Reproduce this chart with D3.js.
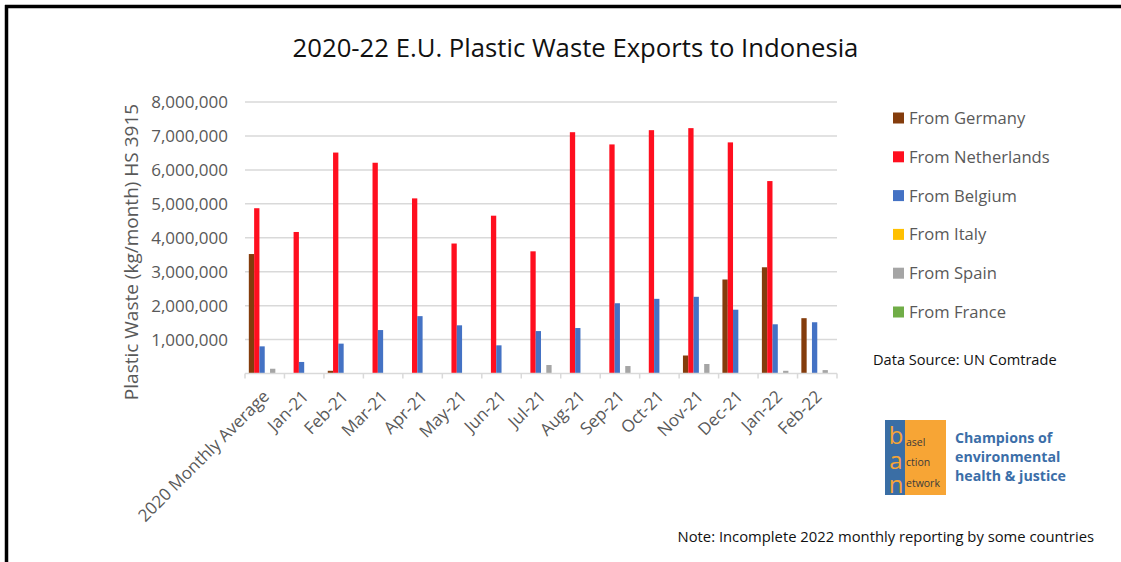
<!DOCTYPE html>
<html>
<head>
<meta charset="utf-8">
<script src="https://cdn.jsdelivr.net/npm/d3@7"></script>
<style>
  html, body { margin: 0; padding: 0; background: #fff; }
  svg { display: block; }
  text { font-family: "Open Sans", sans-serif; }
  .ban { writing-mode: vertical-rl; text-orientation: upright; letter-spacing: -8.5px; }
</style>
</head>
<body>
<svg id="chart" width="1121" height="562"></svg>
<script>
// Monthly plastic waste (HS 3915) shipped to Indonesia, kg/month
const categories = ["2020 Monthly Average", "Jan-21", "Feb-21", "Mar-21", "Apr-21", "May-21",
  "Jun-21", "Jul-21", "Aug-21", "Sep-21", "Oct-21", "Nov-21", "Dec-21", "Jan-22", "Feb-22"];

const seriesNames = ["From Germany", "From Netherlands", "From Belgium", "From Italy", "From Spain", "From France"];
const seriesColors = ["#843C0C", "#FF0F1F", "#4472C4", "#FFC000", "#A5A5A5", "#70AD47"];

const germany     = [3520000, 0, 80000, 0, 0, 0, 0, 0, 0, 0, 0, 530000, 2770000, 3130000, 1630000];
const netherlands = [4870000, 4170000, 6510000, 6210000, 5160000, 3830000, 4650000, 3600000, 7110000, 6750000, 7170000, 7230000, 6810000, 5670000, 0];
const belgium     = [800000, 340000, 880000, 1280000, 1690000, 1420000, 830000, 1250000, 1340000, 2070000, 2200000, 2260000, 1880000, 1450000, 1510000];
const italy       = [0, 0, 0, 0, 0, 0, 0, 0, 0, 0, 0, 0, 0, 0, 0];
const spain       = [140000, 0, 0, 0, 0, 0, 0, 250000, 0, 220000, 0, 280000, 0, 80000, 100000];
const france      = [0, 0, 0, 0, 0, 0, 0, 0, 0, 0, 0, 0, 0, 0, 0];

const yTicks = [1000000, 2000000, 3000000, 4000000, 5000000, 6000000, 7000000, 8000000];

const seriesValues = [germany, netherlands, belgium, italy, spain, france];

const svg = d3.select("#chart");
const W = 1121, H = 562;

// outer frame (top and left edges)
svg.append("rect").attr("x", 0).attr("y", 0).attr("width", W).attr("height", H).attr("fill", "#fff");
svg.append("line").attr("x1", 5).attr("x2", W).attr("y1", 6.5).attr("y2", 6.5)
  .attr("stroke", "#000").attr("stroke-width", 3.5);
svg.append("line").attr("x1", 6.5).attr("x2", 6.5).attr("y1", 5).attr("y2", H)
  .attr("stroke", "#000").attr("stroke-width", 3.5);

const plot = { left: 245, right: 837, top: 102, bottom: 373.5 };

const x0 = d3.scaleBand().domain(categories).range([plot.left, plot.right]).paddingInner(0).paddingOuter(0);
const x1 = d3.scaleBand().domain(seriesNames).range([0, x0.bandwidth()]).paddingInner(0).paddingOuter(0.72);
const y = d3.scaleLinear().domain([0, 8000000]).range([plot.bottom, plot.top]);

// title
svg.append("text").attr("x", 575.5).attr("y", 57).attr("text-anchor", "middle")
  .attr("font-size", 25.7).attr("fill", "#111")
  .text("2020-22 E.U. Plastic Waste Exports to Indonesia");

// gridlines
svg.append("g").selectAll("line").data(yTicks).join("line")
  .attr("x1", plot.left).attr("x2", plot.right)
  .attr("y1", d => y(d)).attr("y2", d => y(d))
  .attr("stroke", "#d9d9d9").attr("stroke-width", 1.5);

// y axis labels
const yAxis = d3.axisLeft(y).tickValues(yTicks).tickSize(0).tickPadding(0)
  .tickFormat(d3.format(","));
svg.append("g").attr("transform", `translate(${plot.left - 17},0)`).call(yAxis)
  .call(g => g.select(".domain").remove())
  .call(g => g.selectAll("text").attr("font-family", "Open Sans, sans-serif")
    .attr("font-size", 17).attr("fill", "#595959"));

// y axis title
svg.append("text")
  .attr("transform", `translate(138,252) rotate(-90)`)
  .attr("text-anchor", "middle").attr("font-size", 19).attr("fill", "#595959")
  .text("Plastic Waste (kg/month) HS 3915");

// bars
const groups = svg.append("g").selectAll("g").data(categories).join("g")
  .attr("transform", d => `translate(${x0(d)},0)`);
groups.selectAll("rect")
  .data((c, i) => seriesNames.map((s, k) => ({ s, v: seriesValues[k][i], color: seriesColors[k] })))
  .join("rect")
  .filter(d => d.v > 0)
  .attr("x", d => x1(d.s))
  .attr("width", x1.bandwidth())
  .attr("y", d => y(d.v))
  .attr("height", d => y(0) - y(d.v))
  .attr("fill", d => d.color);

// x axis line and ticks
const xAxisG = svg.append("g");
xAxisG.append("line").attr("x1", plot.left).attr("x2", plot.right)
  .attr("y1", plot.bottom).attr("y2", plot.bottom)
  .attr("stroke", "#d9d9d9").attr("stroke-width", 1.5);
const tickPos = categories.map(c => x0(c)).concat([plot.right]);
xAxisG.selectAll("line.tick").data(tickPos).join("line").attr("class", "tick")
  .attr("x1", d => d).attr("x2", d => d)
  .attr("y1", plot.bottom).attr("y2", plot.bottom + 5)
  .attr("stroke", "#d9d9d9").attr("stroke-width", 1.5);

// rotated category labels
xAxisG.selectAll("text").data(categories).join("text")
  .attr("transform", d => `translate(${x0(d) + x0.bandwidth() / 2 - 3},389) rotate(-45)`)
  .attr("dy", "0.71em")
  .attr("text-anchor", "end").attr("font-size", 17).attr("fill", "#595959")
  .text(d => d);

// legend
const legend = svg.append("g").selectAll("g").data(seriesNames).join("g")
  .attr("transform", (d, i) => `translate(893,${118 + i * 38.8})`);
legend.append("rect").attr("x", 0).attr("y", -5.5).attr("width", 11).attr("height", 11)
  .attr("fill", (d, i) => seriesColors[i]);
legend.append("text").attr("x", 16).attr("dy", "0.36em")
  .attr("font-size", 16.6).attr("fill", "#595959").text(d => d);

svg.append("text").attr("x", 873).attr("y", 365).attr("font-size", 14.6).attr("fill", "#111")
  .text("Data Source: UN Comtrade");

// BAN logo: initials stacked upright on the blue strip, word endings on orange
const logo = svg.append("g").attr("transform", "translate(885,420)");
logo.append("rect").attr("width", 61).attr("height", 75).attr("fill", "#F7A535");
logo.append("rect").attr("width", 20).attr("height", 75).attr("fill", "#3A6EA5");
logo.append("text").attr("class", "ban")
  .attr("x", 11).attr("y", -2)
  .attr("font-family", "Liberation Sans, Arial, sans-serif")
  .attr("font-size", 24).attr("fill", "#F7A535")
  .text("ban");
const small = [["asel", 26], ["ction", 46], ["etwork", 67]];
logo.selectAll("text.small").data(small).join("text").attr("class", "small")
  .attr("x", 21).attr("y", d => d[1]).attr("font-size", 10.5)
  .attr("font-family", "Liberation Sans, Arial, sans-serif")
  .attr("fill", "#3b3b3b").text(d => d[0]);
const tagline = ["Champions of", "environmental", "health & justice"];
svg.append("g").selectAll("text").data(tagline).join("text")
  .attr("x", 955).attr("y", (d, i) => 443 + i * 19)
  .attr("font-family", "Liberation Sans, Arial, sans-serif")
  .attr("font-weight", "bold").attr("font-size", 14.2).attr("fill", "#3B6EA8")
  .text(d => d);

svg.append("text").attr("x", 1094).attr("y", 542).attr("text-anchor", "end")
  .attr("font-size", 14.8).attr("fill", "#111")
  .text("Note: Incomplete 2022 monthly reporting by some countries");
</script>
</body>
</html>
